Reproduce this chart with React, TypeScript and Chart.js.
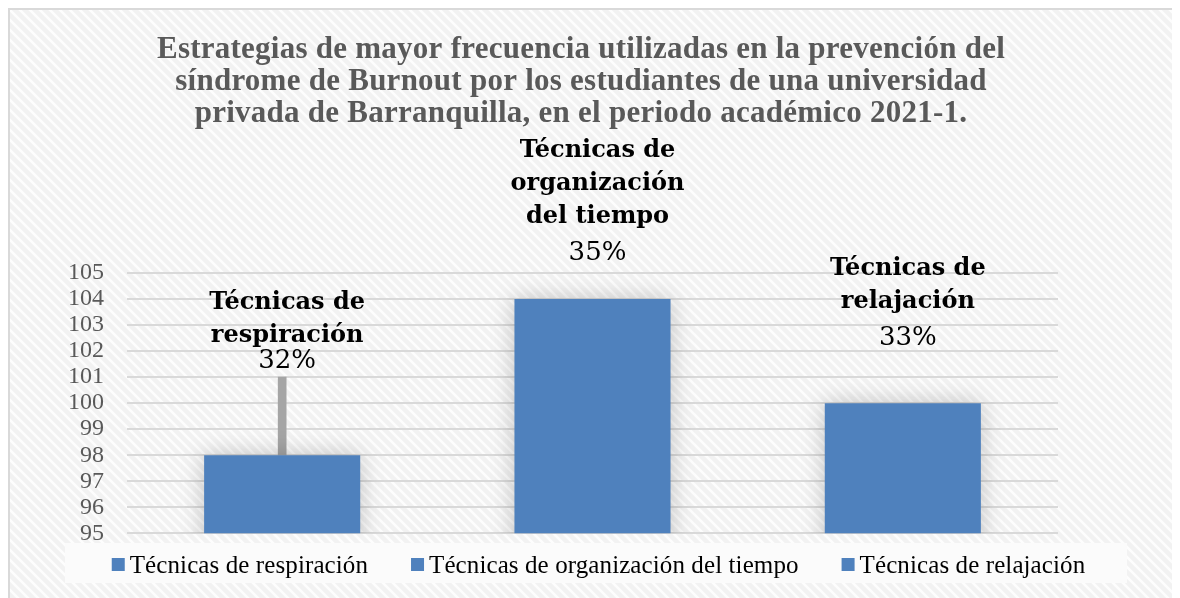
import React, { useEffect, useRef } from "react";
import { Chart, registerables } from "chart.js";

Chart.register(...registerables);

const TITLE_LINES = [
  "Estrategias de mayor frecuencia utilizadas en la prevención del",
  "síndrome de Burnout por los estudiantes de una universidad",
  "privada de Barranquilla, en el periodo académico 2021-1.",
];
const CATEGORIES = [
  "Técnicas de respiración",
  "Técnicas de organización del tiempo",
  "Técnicas de relajación",
];
const VALUES = [98, 104, 100];
const ERROR_PLUS = [3, null, null];
const PERCENT_LABELS = ["32%", "35%", "33%"];
const LABEL_LINES = [
  ["Técnicas de", "respiración"],
  ["Técnicas de", "organización", "del tiempo"],
  ["Técnicas de", "relajación"],
];
const Y_MIN = 95;
const Y_MAX = 105;
const Y_STEP = 1;

// styling
const BAR_COLOR = "#4f81bd";
const ERR_COLOR = "#a5a5a5";
const GRID_COLOR = "#d9d9d9";
const SERIF = "'Liberation Serif', serif";
const LABEL_SERIF = "'DejaVu Serif', serif";
const LABEL_GAP_PX = [9, 39, 58];
const PERCENT_GAP_PX = [26, 37, 37];
const LABEL_DX = 5;
const LABEL_LINE_H = 33;
const CANVAS_W = 1172;
const CANVAS_H = 590;

let patternCache: CanvasPattern | null = null;
function getPattern(ctx: CanvasRenderingContext2D) {
  if (patternCache) return patternCache;
  const c = document.createElement("canvas");
  c.width = 10;
  c.height = 10;
  const p = c.getContext("2d")!;
  p.fillStyle = "#f2f2f2";
  p.fillRect(0, 0, 10, 10);
  p.strokeStyle = "#fdfdfd";
  p.lineWidth = 2.5;
  p.beginPath();
  p.moveTo(-3, -3);
  p.lineTo(13, 13);
  p.moveTo(-13, -3);
  p.lineTo(3, 13);
  p.moveTo(7, -3);
  p.lineTo(23, 13);
  p.stroke();
  patternCache = ctx.createPattern(c, "repeat");
  return patternCache;
}

function setSpacing(ctx: any, v: number) {
  if ("letterSpacing" in ctx) ctx.letterSpacing = `${v}px`;
}

const decorPlugin = {
  id: "decor",
  beforeDraw(chart: any) {
    const { ctx, width, height } = chart;
    ctx.save();
    ctx.fillStyle = getPattern(ctx) || "#f4f4f4";
    ctx.fillRect(0, 0, width, height);
    // border (top & left visible)
    ctx.fillStyle = GRID_COLOR;
    ctx.fillRect(0, 0, width, 2);
    ctx.fillRect(0, 0, 2, height);
    // legend background
    ctx.fillStyle = "#fbfbfb";
    ctx.fillRect(57, 535, 1062, 40);
    // legend items
    ctx.font = `25px ${SERIF}`;
    setSpacing(ctx, 0.1);
    const box = 13;
    const gapBox = 5;
    const gapItem = 43;
    const widths = CATEGORIES.map((c) => ctx.measureText(c).width);
    const total = widths.reduce((a, w) => a + box + gapBox + w, 0) + gapItem * (CATEGORIES.length - 1);
    let x = 590.5 - total / 2;
    ctx.textAlign = "left";
    ctx.textBaseline = "alphabetic";
    CATEGORIES.forEach((c, i) => {
      ctx.fillStyle = BAR_COLOR;
      ctx.fillRect(x, 550, box, box);
      ctx.fillStyle = "#000000";
      ctx.fillText(c, x + box + gapBox, 565);
      x += box + gapBox + widths[i] + gapItem;
    });
    // title
    ctx.fillStyle = "#595959";
    ctx.font = `bold 31px ${SERIF}`;
    setSpacing(ctx, 0.25);
    ctx.textAlign = "center";
    TITLE_LINES.forEach((t, i) => ctx.fillText(t, 573, 50 + i * 32));
    ctx.restore();
  },
  beforeDatasetDraw(chart: any, args: any) {
    if (args.index !== 0) return;
    const ctx = chart.ctx;
    ctx.save();
    ctx.shadowColor = "rgba(0,0,0,0.22)";
    ctx.shadowBlur = 22;
  },
  afterDatasetDraw(chart: any, args: any) {
    if (args.index !== 0) return;
    chart.ctx.restore();
  },
  afterDatasetsDraw(chart: any) {
    const { ctx } = chart;
    const meta = chart.getDatasetMeta(0);
    const y = chart.scales.y;
    ctx.save();
    ctx.fillStyle = "#000000";
    ctx.textAlign = "center";
    ctx.textBaseline = "alphabetic";
    meta.data.forEach((bar: any, i: number) => {
      const topVal = VALUES[i] + (ERROR_PLUS[i] || 0);
      const top = y.getPixelForValue(topVal);
      const base = top - LABEL_GAP_PX[i];
      const x = bar.x + LABEL_DX;
      ctx.font = `26px ${LABEL_SERIF}`;
      ctx.fillText(PERCENT_LABELS[i], x, base);
      ctx.font = `bold 24px ${LABEL_SERIF}`;
      const lines = LABEL_LINES[i];
      const lastBase = base - PERCENT_GAP_PX[i];
      lines.forEach((ln, j) => {
        ctx.fillText(ln, x, lastBase - (lines.length - 1 - j) * LABEL_LINE_H);
      });
    });
    ctx.restore();
  },
};

export default function App() {
  const ref = useRef<HTMLCanvasElement | null>(null);
  useEffect(() => {
    document.body.style.overflow = "hidden";
    if (!ref.current) return;
    const chart = new Chart(ref.current, {
      type: "bar",
      data: {
        labels: CATEGORIES,
        datasets: [
          {
            label: "Valores",
            data: VALUES,
            backgroundColor: BAR_COLOR,
            borderWidth: 0,
            grouped: false,
            categoryPercentage: 1,
            barPercentage: 0.503,
            clip: { left: 40, right: 40, top: 40, bottom: 0 },
            order: 1,
          } as any,
          {
            label: "Error",
            data: VALUES.map((v, i) => (ERROR_PLUS[i] == null ? null : [v, v + (ERROR_PLUS[i] as number)])),
            backgroundColor: ERR_COLOR,
            borderWidth: 0,
            grouped: false,
            barThickness: 8,
            order: 2,
          } as any,
        ],
      },
      options: {
        animation: false,
        responsive: false,
        maintainAspectRatio: false,
        devicePixelRatio: 1,
        layout: { padding: { left: 17, right: 0, top: 265, bottom: 64.7 } },
        plugins: {
          title: { display: false },
          tooltip: { enabled: false },
          legend: { display: false },
        },
        scales: {
          x: { display: false },
          y: {
            min: Y_MIN,
            max: Y_MAX,
            z: 1,
            border: { display: false },
            grid: { color: GRID_COLOR, lineWidth: 2, drawTicks: false },
            ticks: {
              stepSize: Y_STEP,
              autoSkip: false,
              padding: 23,
              color: "#595959",
              font: { family: SERIF, size: 24 },
            },
            afterFit: (s: any) => {
              s.width = 102;
            },
          },
          yR: {
            position: "right",
            display: true,
            border: { display: false },
            grid: { display: false },
            ticks: { display: false },
            afterFit: (s: any) => {
              s.width = 122;
            },
          },
        },
      },
      plugins: [decorPlugin],
    });
    return () => chart.destroy();
  }, []);
  return (
    <div style={{ width: CANVAS_W, height: CANVAS_H }}>
      <canvas ref={ref} width={CANVAS_W} height={CANVAS_H} style={{ display: "block" }} />
    </div>
  );
}
